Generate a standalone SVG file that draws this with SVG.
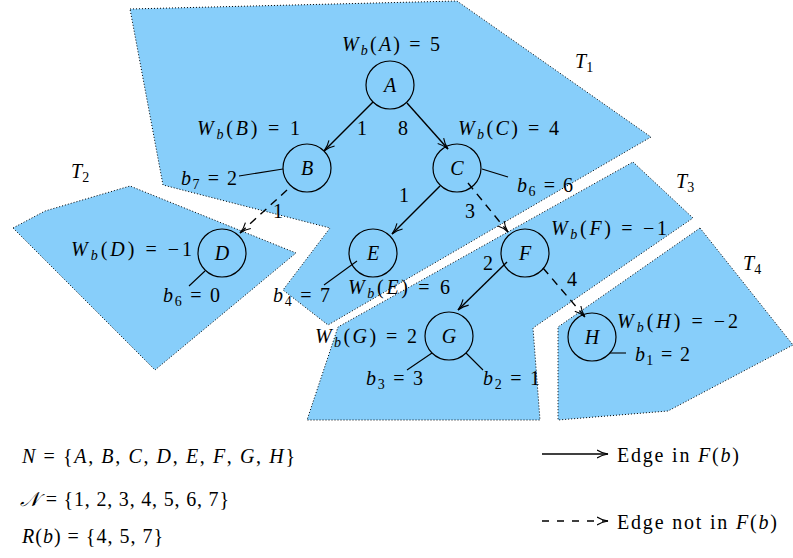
<svg xmlns="http://www.w3.org/2000/svg" width="793" height="558" viewBox="0 0 793 558">
<defs>
<marker id="arr" viewBox="0 0 12 10" refX="11.5" refY="5" markerWidth="12" markerHeight="10" markerUnits="userSpaceOnUse" orient="auto">
<path d="M0.5,1 Q5,4 11.5,5 Q5,6 0.5,9" fill="none" stroke="#000" stroke-width="1.1"/>
</marker>
<style>
.reg{fill:#87CEFA;stroke:#000;stroke-width:1;stroke-dasharray:1 2}
.n{fill:none;stroke:#000;stroke-width:1.2}
.e{fill:none;stroke:#000;stroke-width:1.4;marker-end:url(#arr)}
.d{stroke-dasharray:8 6}
.dl{stroke-dasharray:7 8}
.l{stroke:#000;stroke-width:1.1}
text{font-family:"Liberation Serif","DejaVu Serif",serif;font-size:20px;fill:#000}
.i{font-style:italic}
.s{font-size:14px}
.c{text-anchor:middle}
</style>
</defs>

<g id="regions">
<polygon id="T1-region" class="reg" points="130,9 457,1 651,137 328,325 283,290 330,228 163,185"/>
<polygon id="T2-region" class="reg" points="13,228 45,211 130,186 296,253 155,370"/>
<polygon id="T3-region" class="reg" points="633,162 693,218 533,328 540,420 307,420 338,327"/>
<polygon id="T4-region" class="reg" points="700,228 793,345 668,411 558,420 558,327"/>
<text class="i" x="575" y="68">T<tspan class="s" font-style="normal" dy="4">1</tspan></text>
<text class="i" x="71" y="178">T<tspan class="s" font-style="normal" dy="4">2</tspan></text>
<text class="i" x="676" y="188">T<tspan class="s" font-style="normal" dy="4">3</tspan></text>
<text class="i" x="743" y="270">T<tspan class="s" font-style="normal" dy="4">4</tspan></text>
</g>

<g id="connectors">
<line class="e" x1="373" y1="102" x2="324" y2="151"/>
<line class="e" x1="407" y1="103" x2="448" y2="149"/>
<line class="e d" x1="287" y1="190" x2="240" y2="233"/>
<line class="e" x1="440" y1="186" x2="392" y2="234"/>
<line class="e d" x1="468" y1="183" x2="508" y2="232"/>
<line class="e" x1="507" y1="262" x2="458" y2="310"/>
<line class="e d" x1="543" y1="268" x2="585" y2="317"/>
<text class="c" x="362" y="135">1</text>
<text class="c" x="403" y="135">8</text>
<text class="c" x="278" y="218">1</text>
<text class="c" x="404" y="202">1</text>
<text class="c" x="470" y="218">3</text>
<text class="c" x="488" y="270">2</text>
<text class="c" x="572" y="286">4</text>
</g>

<g id="node-A">
<circle class="n" cx="390" cy="85" r="24"/>
<text class="i c" x="390" y="92">A</text>
<text x="342" y="51" textLength="98" lengthAdjust="spacing"><tspan class="i">W</tspan><tspan class="i s" dy="4">b</tspan><tspan dy="-4">(</tspan><tspan class="i">A</tspan><tspan>) = 5</tspan></text>
</g>

<g id="node-B">
<circle class="n" cx="307" cy="168" r="24"/>
<text class="i c" x="307" y="175">B</text>
<text x="197" y="135" textLength="103" lengthAdjust="spacing"><tspan class="i">W</tspan><tspan class="i s" dy="4">b</tspan><tspan dy="-4">(</tspan><tspan class="i">B</tspan><tspan>) = 1</tspan></text>
<line class="l" x1="283" y1="169" x2="239" y2="176"/>
<text x="181" y="185" textLength="56" lengthAdjust="spacing"><tspan class="i">b</tspan><tspan class="s" dy="4">7</tspan><tspan dy="-4"> = 2</tspan></text>
</g>

<g id="node-C">
<circle class="n" cx="457" cy="168" r="24"/>
<text class="i c" x="457" y="175">C</text>
<text x="458" y="135" textLength="101" lengthAdjust="spacing"><tspan class="i">W</tspan><tspan class="i s" dy="4">b</tspan><tspan dy="-4">(</tspan><tspan class="i">C</tspan><tspan>) = 4</tspan></text>
<line class="l" x1="482" y1="169" x2="508" y2="177"/>
<text x="517" y="192" textLength="56" lengthAdjust="spacing"><tspan class="i">b</tspan><tspan class="s" dy="4">6</tspan><tspan dy="-4"> = 6</tspan></text>
</g>

<g id="node-D">
<circle class="n" cx="222" cy="253" r="24"/>
<text class="i c" x="222" y="260">D</text>
<text x="71" y="256" textLength="121" lengthAdjust="spacing"><tspan class="i">W</tspan><tspan class="i s" dy="4">b</tspan><tspan dy="-4">(</tspan><tspan class="i">D</tspan><tspan>) = −1</tspan></text>
<line class="l" x1="205" y1="271" x2="189" y2="286"/>
<text x="163" y="302" textLength="57" lengthAdjust="spacing"><tspan class="i">b</tspan><tspan class="s" dy="4">6</tspan><tspan dy="-4"> = 0</tspan></text>
</g>

<g id="node-E">
<circle class="n" cx="373" cy="253" r="24"/>
<text class="i c" x="373" y="260">E</text>
<text x="348" y="294" textLength="102" lengthAdjust="spacing"><tspan class="i">W</tspan><tspan class="i s" dy="4">b</tspan><tspan dy="-4">(</tspan><tspan class="i">E</tspan><tspan>) = 6</tspan></text>
<line class="l" x1="357" y1="261" x2="324" y2="285"/>
<text x="273" y="302" textLength="57" lengthAdjust="spacing"><tspan class="i">b</tspan><tspan class="s" dy="4">4</tspan><tspan dy="-4"> = 7</tspan></text>
</g>

<g id="node-F">
<circle class="n" cx="525" cy="253" r="24"/>
<text class="i c" x="525" y="260">F</text>
<text x="551" y="235" textLength="116" lengthAdjust="spacing"><tspan class="i">W</tspan><tspan class="i s" dy="4">b</tspan><tspan dy="-4">(</tspan><tspan class="i">F</tspan><tspan>) = −1</tspan></text>
</g>

<g id="node-G">
<circle class="n" cx="449" cy="336" r="24"/>
<text class="i c" x="449" y="343">G</text>
<text x="315" y="343" textLength="102" lengthAdjust="spacing"><tspan class="i">W</tspan><tspan class="i s" dy="4">b</tspan><tspan dy="-4">(</tspan><tspan class="i">G</tspan><tspan>) = 2</tspan></text>
<line class="l" x1="432" y1="353" x2="407" y2="370"/>
<line class="l" x1="466" y1="353" x2="483" y2="370"/>
<text x="366" y="385" textLength="57" lengthAdjust="spacing"><tspan class="i">b</tspan><tspan class="s" dy="4">3</tspan><tspan dy="-4"> = 3</tspan></text>
<text x="483" y="385" textLength="57" lengthAdjust="spacing"><tspan class="i">b</tspan><tspan class="s" dy="4">2</tspan><tspan dy="-4"> = 1</tspan></text>
</g>

<g id="node-H">
<circle class="n" cx="592" cy="337" r="24"/>
<text class="i c" x="592" y="344">H</text>
<text x="617" y="328" textLength="121" lengthAdjust="spacing"><tspan class="i">W</tspan><tspan class="i s" dy="4">b</tspan><tspan dy="-4">(</tspan><tspan class="i">H</tspan><tspan>) = −2</tspan></text>
<line class="l" x1="610" y1="353" x2="626" y2="353"/>
<text x="635" y="361" textLength="55" lengthAdjust="spacing"><tspan class="i">b</tspan><tspan class="s" dy="4">1</tspan><tspan dy="-4"> = 2</tspan></text>
</g>

<g id="sets">
<text x="22" y="463" textLength="273" lengthAdjust="spacing"><tspan class="i">N</tspan> = {<tspan class="i">A</tspan>, <tspan class="i">B</tspan>, <tspan class="i">C</tspan>, <tspan class="i">D</tspan>, <tspan class="i">E</tspan>, <tspan class="i">F</tspan>, <tspan class="i">G</tspan>, <tspan class="i">H</tspan>}</text>
<text x="20" y="506" textLength="209" lengthAdjust="spacing"><tspan class="i">𝒩</tspan> = {1, 2, 3, 4, 5, 6, 7}</text>
<text x="22" y="543" textLength="141" lengthAdjust="spacing"><tspan class="i">R</tspan>(<tspan class="i">b</tspan>) = {4, 5, 7}</text>
</g>

<g id="legend">
<line class="e" x1="542" y1="454" x2="608" y2="454"/>
<text x="617" y="462" textLength="122" lengthAdjust="spacing">Edge in <tspan class="i">F</tspan>(<tspan class="i">b</tspan>)</text>
<line class="e dl" x1="542" y1="521" x2="608" y2="521"/>
<text x="617" y="529" textLength="160" lengthAdjust="spacing">Edge not in <tspan class="i">F</tspan>(<tspan class="i">b</tspan>)</text>
</g>
</svg>
